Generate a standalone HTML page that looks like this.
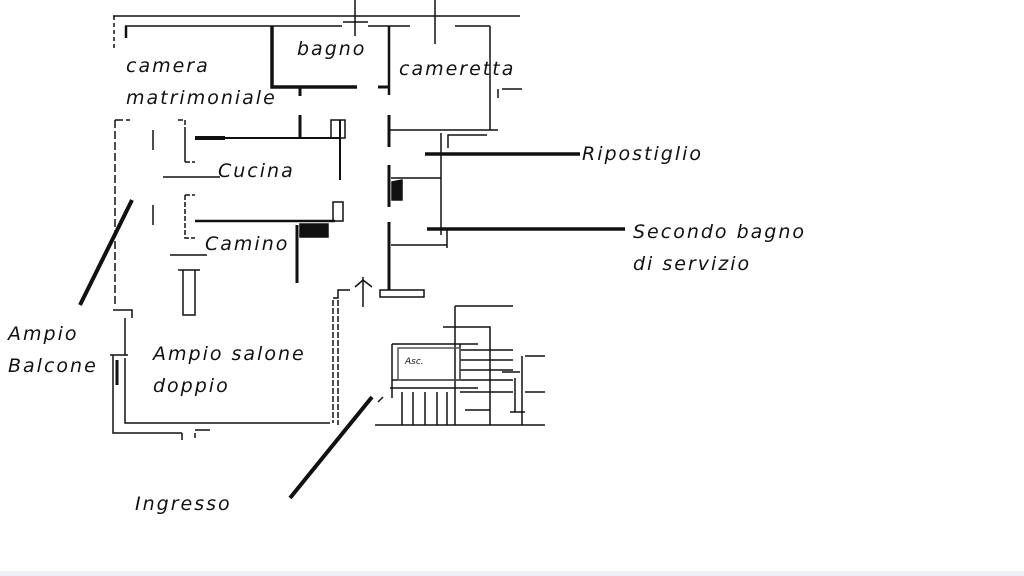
<!DOCTYPE html>
<html><head><meta charset="utf-8"><style>
html,body{margin:0;padding:0;background:#fff;width:1024px;height:576px;overflow:hidden}
svg{display:block}
text{font-family:"DejaVu Sans","Liberation Sans",sans-serif;font-size:19px;fill:#111;letter-spacing:2px;font-style:italic}
</style></head><body>
<svg width="1024" height="576" viewBox="0 0 1024 576" xmlns="http://www.w3.org/2000/svg">
<g stroke="#111" fill="none" stroke-width="1.5">
<path d="M113 16H520 M125 26H342 M368 26H410 M455 26H490 M355 0V36 M435 0V44 M343 22H368"/>
<path d="M114 16V50" stroke-dasharray="4 3"/>
<path d="M126 26V38" stroke-width="2.5"/>
<path d="M272 26V87H357" stroke-width="3.5"/>
<path d="M378 87H389" stroke-width="3"/>
<path d="M389 26V95" stroke-width="2.5"/>
<path d="M300 88V96 M300 115V138" stroke-width="3"/>
<path d="M490 26V130 M389 130H498 M441 133V235 M448 148V135H487 M502 89H522 M498 89V98" />
<path d="M389 115V147 M389 165V207 M389 222V290" stroke-width="3"/>
<path d="M391 178H441 M391 245H447 M447 229V248"/>
<path d="M392 182L402 180V200H392Z" fill="#111"/>
<rect x="380" y="290" width="44" height="7"/>
<path d="M425 154H580" stroke-width="3.5"/>
<path d="M427 229H625" stroke-width="3.5"/>
<path d="M195 138H340 M340 120V180" stroke-width="2"/>
<path d="M195 138H225" stroke-width="4"/>
<rect x="331" y="120" width="14" height="18"/>
<path d="M178 120H185V162H195 M185 130V162" stroke-dasharray="5 2"/>
<path d="M163 177H220"/>
<path d="M195 221H335" stroke-width="2.5"/>
<rect x="333" y="202" width="10" height="19"/>
<path d="M300 224H328V237H300Z" fill="#111"/>
<path d="M297 225V283" stroke-width="3"/>
<path d="M185 195H195 M185 195V238H195" stroke-dasharray="5 2"/>
<path d="M170 255H207"/>
<path d="M183 270V315H195V270 M178 270H200"/>
<path d="M115 120H130 M115 120V305" stroke-dasharray="8 3"/>
<path d="M153 130V150 M153 205V225" />
<path d="M113 310H132V318 M125 318V355 M110 355H128 M125 358V423H330 M113 355V433H182 M195 433V438 M195 430H210 M182 433V440"/>
<path d="M117 360V385" stroke-width="3"/>
<path d="M333 300V423 M338 300V425" stroke-dasharray="6 2"/>
<path d="M333 298H338V290H350"/>
<path d="M363 277V307 M355 287L363 280L372 287"/>
<path d="M375 425H545 M455 306H513 M455 306V425 M443 327H490V425 M392 344H478 M392 344V380H460V344 M392 378V398 M390 388H478 M460 350H513 M460 360H513 M460 370H513 M460 380H513 M460 392H513 M402 392V425 M413 392V425 M425 392V425 M437 392V425 M447 392V425 M465 410H490 M522 356V425 M502 372H520 M515 378V412 M510 412H525 M525 356H545 M525 392H545 M525 425H545"/>
<rect x="398" y="348" width="62" height="32" stroke="#555"/>
<path d="M378 402L383 397" />
<path d="M132 200L80 305 M372 397L290 498" stroke-width="4"/>
</g>
<rect x="0" y="571" width="1024" height="5" fill="#eef0f6"/>
<text x="126" y="72">camera</text>
<text x="126" y="104">matrimoniale</text>
<text x="297" y="55">bagno</text>
<text x="399" y="75">cameretta</text>
<text x="582" y="160">Ripostiglio</text>
<text x="218" y="177">Cucina</text>
<text x="205" y="250">Camino</text>
<text x="633" y="238">Secondo bagno</text>
<text x="633" y="270">di servizio</text>
<text x="8" y="340">Ampio</text>
<text x="8" y="372">Balcone</text>
<text x="153" y="360">Ampio salone</text>
<text x="153" y="392">doppio</text>
<text x="135" y="510">Ingresso</text>
<text x="405" y="364" style="font-size:9px;letter-spacing:0">Asc.</text>
</svg>
</body></html>
